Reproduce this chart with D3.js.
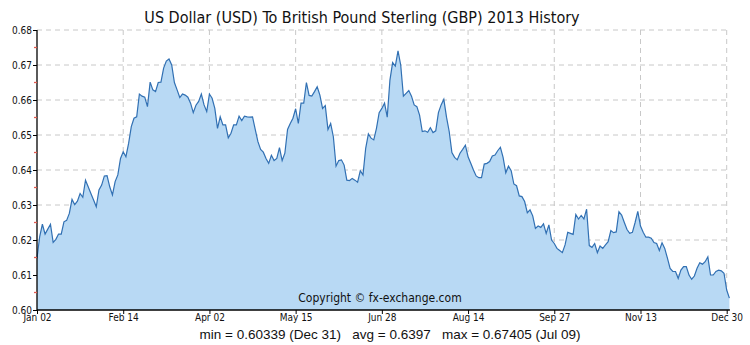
<!doctype html>
<html>
  <head>
    <script src="https://cdnjs.cloudflare.com/ajax/libs/d3/7.8.5/d3.min.js"></script>
    <style>
      body { margin: 0; background: #fff; }
      svg { display: block; }
    </style>
  </head>
  <body>
    <svg width="750" height="345"></svg>
    <script>
        // daily USD→GBP rates for 2013 (trading days, Jan 02 .. Dec 31)
        var rates = [
            0.6148, 0.6210, 0.6245, 0.6217, 0.6231, 0.6245, 0.6193, 0.6202, 0.6217, 0.6217,
            0.6252, 0.6256, 0.6276, 0.6316, 0.6301, 0.6311, 0.6333, 0.6322, 0.6371, 0.6352,
            0.6333, 0.6314, 0.6295, 0.6343, 0.6357, 0.6383, 0.6384, 0.6352, 0.6329, 0.6367,
            0.6386, 0.6433, 0.6452, 0.6438, 0.6476, 0.6524, 0.6548, 0.6552, 0.6617, 0.6611,
            0.6608, 0.6581, 0.6651, 0.6629, 0.6624, 0.6650, 0.6651, 0.6691, 0.6711, 0.6717,
            0.6700, 0.6650, 0.6629, 0.6607, 0.6617, 0.6614, 0.6608, 0.6591, 0.6564, 0.6585,
            0.6596, 0.6617, 0.6586, 0.6567, 0.6617, 0.6605, 0.6576, 0.6519, 0.6552, 0.6529,
            0.6529, 0.6492, 0.6505, 0.6529, 0.6529, 0.6554, 0.6541, 0.6554, 0.6552, 0.6551,
            0.6552, 0.6516, 0.6481, 0.6459, 0.6451, 0.6433, 0.6419, 0.6442, 0.6427, 0.6433,
            0.6464, 0.6427, 0.6448, 0.6516, 0.6533, 0.6548, 0.6575, 0.6533, 0.6591, 0.6591,
            0.6650, 0.6613, 0.6611, 0.6624, 0.6638, 0.6614, 0.6576, 0.6584, 0.6516, 0.6533,
            0.6495, 0.6411, 0.6427, 0.6429, 0.6414, 0.6371, 0.6370, 0.6376, 0.6371, 0.6365,
            0.6398, 0.6386, 0.6462, 0.6503, 0.6491, 0.6486, 0.6519, 0.6564, 0.6576, 0.6591,
            0.6551, 0.6657, 0.6707, 0.6697, 0.67405, 0.6700, 0.6611, 0.6619, 0.6627, 0.6611,
            0.6586, 0.6581, 0.6557, 0.6510, 0.6512, 0.6508, 0.6521, 0.6507, 0.6512, 0.6564,
            0.6586, 0.6602, 0.6551, 0.6510, 0.6450, 0.6436, 0.6429, 0.6448, 0.6459, 0.6471,
            0.6438, 0.6419, 0.6400, 0.6383, 0.6378, 0.6378, 0.6417, 0.6419, 0.6424, 0.6440,
            0.6443, 0.6455, 0.6465, 0.6436, 0.6392, 0.6411, 0.6398, 0.6360, 0.6355, 0.6326,
            0.6324, 0.6310, 0.6278, 0.6286, 0.6269, 0.6233, 0.6240, 0.6236, 0.6246, 0.6219,
            0.6243, 0.6200, 0.6190, 0.6176, 0.6170, 0.6164, 0.6186, 0.6222, 0.6219, 0.6216,
            0.6273, 0.6260, 0.6270, 0.6260, 0.6288, 0.6184, 0.6179, 0.6190, 0.6164, 0.6183,
            0.6176, 0.6186, 0.6195, 0.6227, 0.6221, 0.6223, 0.6281, 0.6271, 0.6250, 0.6230,
            0.6219, 0.6222, 0.6250, 0.6282, 0.6240, 0.6222, 0.6208, 0.6208, 0.6205, 0.6193,
            0.6190, 0.6170, 0.6192, 0.6176, 0.6148, 0.6119, 0.6110, 0.6110, 0.6090, 0.6114,
            0.6124, 0.6124, 0.6100, 0.6088, 0.6097, 0.6119, 0.6135, 0.6131, 0.6138, 0.6152,
            0.6100, 0.6100, 0.6110, 0.6114, 0.6112, 0.6105, 0.6057, 0.60339
        ];

        var tickIndex  = [0, 32, 64, 96, 128, 160, 192, 224, 256];
        var tickLabels = ["Jan 02", "Feb 14", "Apr 02", "May 15", "Jun 28", "Aug 14", "Sep 27", "Nov 13", "Dec 30"];
        var yTicks     = [0.60, 0.61, 0.62, 0.63, 0.64, 0.65, 0.66, 0.67, 0.68];
        var yMinor     = [0.605, 0.615, 0.625, 0.635, 0.645, 0.655, 0.665, 0.675];

        var titleText = "US Dollar (USD) To British Pound Sterling (GBP) 2013 History";
        var statsText = "min = 0.60339 (Dec 31)   avg = 0.6397   max = 0.67405 (Jul 09)";

        var plotL = 37, plotR = 726.7, plotT = 30, plotB = 310;

        var x = d3.scaleLinear().domain([0, 256]).range([plotL, plotR]);
        var y = d3.scaleLinear().domain([0.60, 0.68]).range([plotB, plotT]);

        var svg = d3.select("svg");

        // grid
        svg.append("g")
            .selectAll("line")
            .data(yTicks.slice(1))
            .enter()
            .append("line")
                .attr("x1", plotL).attr("x2", plotR)
                .attr("y1", d => y(d)).attr("y2", d => y(d))
                .attr("stroke", "#c8c8c8")
                .attr("stroke-dasharray", "5,4");

        svg.append("g")
            .selectAll("line")
            .data(tickIndex.slice(1))
            .enter()
            .append("line")
                .attr("x1", d => x(d)).attr("x2", d => x(d))
                .attr("y1", plotT).attr("y2", plotB)
                .attr("stroke", "#c8c8c8")
                .attr("stroke-dasharray", "5,4");

        // area + line
        var area = d3.area()
            .x((d, i) => x(i))
            .y0(plotB)
            .y1(d => y(d));

        var line = d3.line()
            .x((d, i) => x(i))
            .y(d => y(d));

        svg.append("path")
            .datum(rates)
            .attr("d", area)
            .attr("fill", "#b8d9f4");

        svg.append("path")
            .datum(rates)
            .attr("d", line)
            .attr("fill", "none")
            .attr("stroke", "#3170b3")
            .attr("stroke-width", 1.2);

        // axes
        var yAxis = d3.axisLeft(y)
            .tickValues(yTicks)
            .tickFormat(d3.format(".2f"))
            .tickSize(4)
            .tickPadding(1);

        var gy = svg.append("g")
            .attr("transform", "translate(" + plotL + ",0)")
            .call(yAxis);

        var xAxis = d3.axisBottom(x)
            .tickValues(tickIndex)
            .tickFormat((d, i) => tickLabels[i])
            .tickSize(4)
            .tickPadding(0);

        var gx = svg.append("g")
            .attr("transform", "translate(0," + plotB + ")")
            .call(xAxis);

        gx.select(".domain").attr("d", "M" + plotL + ",0H" + (x(rates.length - 1) + 0.5));
        gy.select(".domain").attr("d", "M0," + plotB + "V" + plotT);

        [gx, gy].forEach(g => {
            g.select(".domain").attr("stroke", "#000").attr("stroke-width", 1.3);
            g.selectAll(".tick line").attr("stroke", "#000");
            g.selectAll(".tick text")
                .attr("fill", "#111")
                .style("font-family", "'DejaVu Sans Condensed', 'DejaVu Sans'")
                .style("font-size", "10px");
        });

        // red minor ticks on the y axis
        svg.append("g")
            .selectAll("line")
            .data(yMinor)
            .enter()
            .append("line")
                .attr("x1", plotL - 3).attr("x2", plotL)
                .attr("y1", d => y(d)).attr("y2", d => y(d))
                .attr("stroke", "#e05a4e")
                .attr("stroke-width", 1.3);

        // texts
        svg.append("text")
            .attr("x", 362)
            .attr("y", 23)
            .attr("text-anchor", "middle")
            .style("font-family", "'DejaVu Sans Condensed', 'DejaVu Sans'")
            .style("font-size", "16px")
            .attr("fill", "#111")
            .text(titleText);

        svg.append("text")
            .attr("x", 380)
            .attr("y", 302)
            .attr("text-anchor", "middle")
            .style("font-family", "'DejaVu Sans Condensed', 'DejaVu Sans'")
            .style("font-size", "12px")
            .attr("fill", "#111")
            .text("Copyright © fx-exchange.com");

        svg.append("text")
            .attr("x", 390)
            .attr("y", 339)
            .attr("text-anchor", "middle")
            .attr("xml:space", "preserve")
            .style("white-space", "pre")
            .style("font-family", "'Liberation Sans', Arial")
            .style("font-size", "13.5px")
            .attr("fill", "#111")
            .text(statsText);
    </script>
  </body>
</html>
